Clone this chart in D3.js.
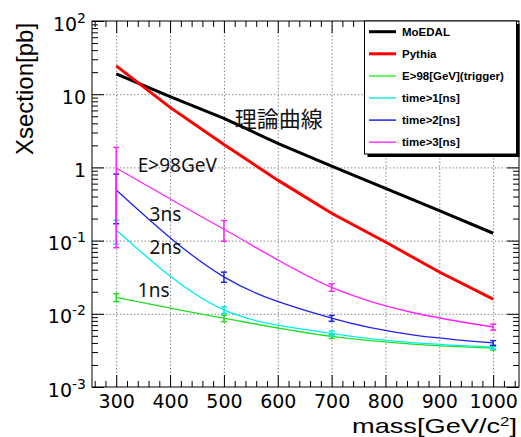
<!DOCTYPE html>
<html>
<head>
<meta charset="utf-8">
<script src="https://d3js.org/d3.v7.min.js"></script>
<style>
  body { margin: 0; background: #fff; }
  svg { display: block; }
  .axis text { font-family: "DejaVu Sans", sans-serif; font-size: 19px; fill: #000; }
  .axis line { stroke: #000; }
  .grid line { stroke: #888; stroke-dasharray: 1.5,2; }
  .grid path, .axis path { display: none; }
  .legend text { font-family: "Liberation Sans", Arial, sans-serif; font-weight: bold; font-size: 11.5px; }
  .note { font-family: "Noto Sans", sans-serif; font-size: 19px; fill: #111; }
</style>
</head>
<body>
<svg width="521" height="437"></svg>
<script>
// theory curves, every 100 GeV
var masses = [300, 400, 500, 600, 700, 800, 900, 1000];
var moedal = [18.9, 9.25, 4.69, 2.13, 1.04, 0.518, 0.257, 0.126];
var pythia = [24.4, 6.6, 2.05, 0.67, 0.236, 0.0957, 0.0372, 0.0159];

// after cuts, only simulated at these masses
var cutMasses = [300, 500, 700, 1000];
var trigger    = [0.0168, 0.0087, 0.0049, 0.0034];
var triggerErr = [0.0021, 0.0009, 0.0003, 0.0002];
var time1      = [0.14, 0.0113, 0.0054, 0.0035];
var time1Err   = [0.05, 0.0012, 0.0004, 0.0002];
var time2      = [0.49, 0.032, 0.0087, 0.0040];
var time2Err   = [0.32, 0.0051, 0.0008, 0.0003];
var time3      = [0.98, 0.143, 0.023, 0.0066];
var time3Err   = [0.90, 0.045, 0.0027, 0.0006];

var xTicks = [300, 400, 500, 600, 700, 800, 900, 1000];
var yTicks = [1e-3, 1e-2, 1e-1, 1, 10, 100];
var legendNames = ["MoEDAL", "Pythia", "E>98[GeV](trigger)", "time>1[ns]", "time>2[ns]", "time>3[ns]"];

var margin = {top: 21, right: 2, bottom: 50, left: 92},
    width = 521 - margin.left - margin.right,
    height = 437 - margin.top - margin.bottom;

var svg = d3.select("svg").append("g")
    .attr("transform", "translate(" + margin.left + "," + margin.top + ")");

var x = d3.scaleLinear().domain([255, 1048]).range([0, width]);
var y = d3.scaleLog().domain([1e-3, 1e2]).range([height, 0]);

// minor tick values
var xMinor = d3.range(260, 1048, 20).filter(function(d) { return d % 100 != 0; });
var yMinor = [];
[1e-3, 1e-2, 1e-1, 1, 10].forEach(function(p) {
  for (var k = 2; k <= 9; k++) yMinor.push(p * k);
});

// grid
svg.append("g").attr("class", "grid")
    .attr("transform", "translate(0," + height + ")")
    .call(d3.axisBottom(x).tickValues(xTicks).tickSize(-height).tickFormat(""));
svg.append("g").attr("class", "grid")
    .call(d3.axisLeft(y).tickValues([1e-2, 1e-1, 1, 10]).tickSize(-width).tickFormat(""));

// axes, ticks pointing inward
svg.append("g").attr("class", "axis")
    .attr("transform", "translate(0," + height + ")")
    .call(d3.axisBottom(x).tickValues(xTicks).tickSize(-12).tickPadding(7.5).tickFormat(d3.format("d")));
svg.append("g").attr("class", "axis")
    .attr("transform", "translate(0," + height + ")")
    .call(d3.axisBottom(x).tickValues(xMinor).tickSize(-6).tickFormat(""));
svg.append("g").attr("class", "axis")
    .call(d3.axisTop(x).tickValues(xTicks).tickSize(-12).tickFormat(""));
svg.append("g").attr("class", "axis")
    .call(d3.axisTop(x).tickValues(xMinor).tickSize(-6).tickFormat(""));

var yAx = svg.append("g").attr("class", "axis")
    .call(d3.axisLeft(y).tickValues(yTicks).tickSize(-12).tickPadding(6).tickFormat(""));
yAx.selectAll(".tick text").attr("dy", "0.48em").each(function(d) {
  var e = Math.round(Math.log10(d)), t = d3.select(this);
  if (e == 0) { t.text("1"); return; }
  t.append("tspan").text("10");
  if (e != 1) t.append("tspan").attr("dy", "-8").attr("font-size", "14px").text(e);
});
svg.append("g").attr("class", "axis")
    .call(d3.axisLeft(y).tickValues(yMinor).tickSize(-6).tickFormat(""));
svg.append("g").attr("class", "axis")
    .attr("transform", "translate(" + width + ",0)")
    .call(d3.axisRight(y).tickValues(yTicks).tickSize(-12).tickFormat(""));
svg.append("g").attr("class", "axis")
    .attr("transform", "translate(" + width + ",0)")
    .call(d3.axisRight(y).tickValues(yMinor).tickSize(-6).tickFormat(""));

svg.append("rect").attr("width", width).attr("height", height)
    .attr("fill", "none").attr("stroke", "#000");

// theory lines
var thLine = d3.line()
    .x(function(d, i) { return x(masses[i]); })
    .y(function(d) { return y(d); });
svg.append("path").datum(moedal).attr("d", thLine)
    .attr("fill", "none").attr("stroke", "#000").attr("stroke-width", 3);
svg.append("path").datum(pythia).attr("d", thLine)
    .attr("fill", "none").attr("stroke", "#ff0000").attr("stroke-width", 3);

// cut curves with error bars
var cutLine = d3.line()
    .x(function(d, i) { return x(cutMasses[i]); })
    .y(function(d) { return y(d); })
    .curve(d3.curveMonotoneX);

function drawCut(vals, errs, color) {
  svg.append("path").datum(vals).attr("d", cutLine)
      .attr("fill", "none").attr("stroke", color).attr("stroke-width", 1.3);
  var g = svg.append("g").attr("stroke", color).attr("stroke-width", 1.5);
  vals.forEach(function(v, i) {
    var cx = x(cutMasses[i]), y0 = y(v - errs[i]), y1 = y(v + errs[i]);
    g.append("line").attr("x1", cx).attr("x2", cx).attr("y1", y0).attr("y2", y1);
    g.append("line").attr("x1", cx - 3).attr("x2", cx + 3).attr("y1", y0).attr("y2", y0);
    g.append("line").attr("x1", cx - 3).attr("x2", cx + 3).attr("y1", y1).attr("y2", y1);
  });
}
drawCut(trigger, triggerErr, "#22dd22");
drawCut(time1, time1Err, "#00eeee");
drawCut(time2, time2Err, "#2222ee");
drawCut(time3, time3Err, "#ff22ff");

// notes on the plot
function note(txt, m, v, size, fam) {
  svg.append("text").attr("class", "note")
      .attr("x", x(m)).attr("y", y(v))
      .style("font-size", size + "px")
      .style("font-family", fam || null)
      .text(txt);
}
note("理論曲線", 520, 3.6, 22, "'Noto Sans CJK JP', sans-serif");
note("E>98GeV", 340, 0.865, 19);
note("3ns", 362, 0.185, 19);
note("2ns", 362, 0.0656, 19);
note("1ns", 340, 0.017, 19);

// legend
var colors = ["#000", "#ff0000", "#66f066", "#55eeee", "#2222ee", "#ff33ff"];
var widths = [3, 3, 2, 2, 1.5, 1.5];
var lg = svg.append("g").attr("class", "legend")
    .attr("transform", "translate(" + (364.5 - margin.left) + "," + (21 - margin.top) + ")");
lg.append("rect").attr("x", 3).attr("y", 3).attr("width", 152).attr("height", 133).attr("fill", "#000");
lg.append("rect").attr("width", 152).attr("height", 133).attr("fill", "#fff").attr("stroke", "#000");
legendNames.forEach(function(n, i) {
  var ry = 10.7 + i * 22.1;
  lg.append("line").attr("x1", 4.5).attr("x2", 31.5).attr("y1", ry).attr("y2", ry)
      .attr("stroke", colors[i]).attr("stroke-width", widths[i]);
  lg.append("text").attr("x", 37.5).attr("y", ry).attr("dy", "0.35em").text(n);
});

// axis titles
var root = d3.select("svg");
root.append("text")
    .attr("transform", "translate(33,155) rotate(-90)")
    .attr("font-family", "'Liberation Sans', Arial, sans-serif")
    .attr("font-size", 24)
    .text("Xsection[pb]");
var xt = root.append("text")
    .attr("x", 352).attr("y", 432.5)
    .attr("font-family", "'Liberation Sans', Arial, sans-serif")
    .attr("font-size", 21)
    .attr("textLength", 165).attr("lengthAdjust", "spacingAndGlyphs");
xt.append("tspan").text("mass[GeV/c");
xt.append("tspan").attr("dy", -7).attr("font-size", 13).text("2");
xt.append("tspan").attr("dy", 7).text("]");
</script>
</body>
</html>
